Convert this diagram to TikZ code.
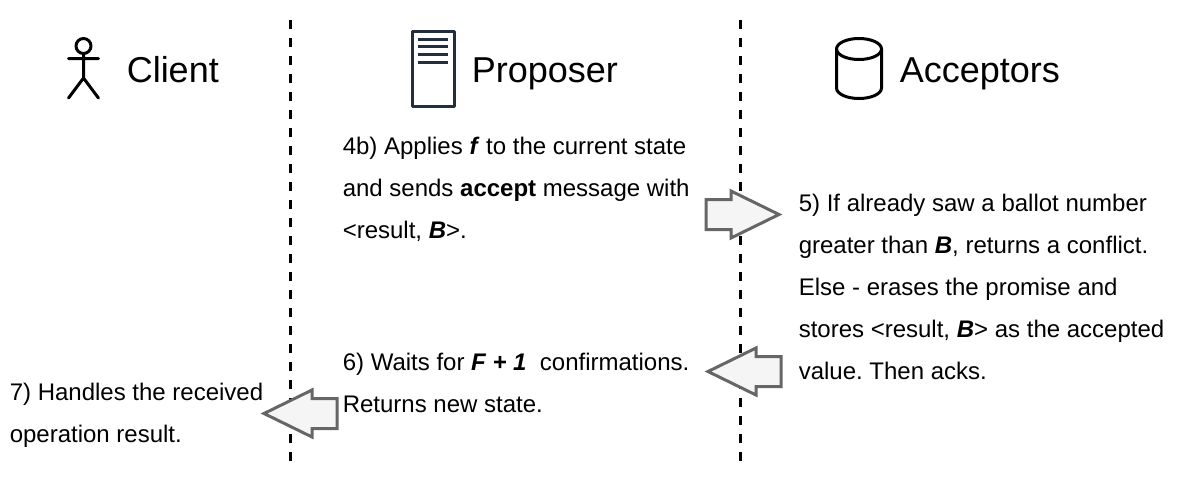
\documentclass[tikz,border=0pt]{standalone}
\usepackage{fontspec}
\setmainfont{Liberation Sans}
\frenchspacing
\definecolor{docblue}{HTML}{232F3E}
\definecolor{arrowgray}{HTML}{666666}
\definecolor{arrowfill}{HTML}{F5F5F5}
\tikzset{
  lane/.style={line width=2.25pt,dash pattern=on 6.75pt off 6.75pt},
  heading/.style={anchor=base west,font=\fontsize{27}{30}\selectfont,inner sep=0pt},
  stepline/.style={anchor=base west,font=\fontsize{18}{21}\selectfont,inner sep=0pt},
  actor/.style={line width=2.25pt,line cap=round,line join=round},
  flow/.style={line width=2.25pt,draw=arrowgray,fill=arrowfill,line join=miter}
}
\begin{document}
\begin{tikzpicture}[x=0.75pt,y=-0.75pt,line join=round]
	%Page.
	\useasboundingbox (0,0) rectangle (1178,476);
	%Lanes.
	\coordinate (laneAtop) at (290.5,20);
	\coordinate (laneAbot) at (290.5,462);
	\coordinate (laneBtop) at (740.5,20);
	\coordinate (laneBbot) at (740.5,462);
	\draw[lane] (laneAtop)--(laneAbot);
	\draw[lane] (laneBtop)--(laneBbot);
	%Headings.
	\node[heading] (client) at (126.5,82) {Client};
	\node[heading] (proposer) at (471.5,82) {Proposer};
	\node[heading] (acceptors) at (899.5,82) {Acceptors};
	%Client icon.
	\draw[actor] (83.5,46) circle (7.5);
	\draw[actor] (83.5,53.5)--(83.5,78) (68.5,58.5)--(98.5,58.5) (68.5,98)--(83.5,78)--(98.5,98);
	%Proposer icon.
	\draw[actor,docblue] (412,31) rectangle (454,106);
	\foreach \y in {39,46.5,54.5,62}{
		\draw[line width=2.25pt,docblue] (418,\y)--(448,\y);
	}
	%Acceptors icon.
	\draw[actor] (859,49) ellipse (22.5 and 10.5);
	\draw[actor] (836.5,49)--(836.5,88) arc[x radius=22.5,y radius=10.5,start angle=180,end angle=0]--(881.5,49);
	%Proposer text.
	\node[stepline] (applyA) at (342.5,154) {4b) Applies \textbf{\textit{f}} to the current state};
	\node[stepline] (applyB) at (342.5,196) {and sends \textbf{accept} message with};
	\node[stepline] (applyC) at (342.5,238) {<result, \textbf{\textit{B}}>.};
	\node[stepline] (waitA) at (342.5,370) {6) Waits for \textbf{\textit{F + 1}}\ \ confirmations.};
	\node[stepline] (waitB) at (342.5,412) {Returns new state.};
	%Acceptors text.
	\node[stepline] (ackA) at (798.5,211) {5) If already saw a ballot number};
	\node[stepline] (ackB) at (798.5,253) {greater than \textbf{\textit{B}}, returns a conflict.};
	\node[stepline] (ackC) at (798.5,295) {Else - erases the promise and};
	\node[stepline] (ackD) at (798.5,337) {stores <result, \textbf{\textit{B}}> as the accepted};
	\node[stepline] (ackE) at (798.5,379) {value. Then acks.};
	%Client text.
	\node[stepline] (handleA) at (9.5,400) {7) Handles the received};
	\node[stepline] (handleB) at (9.5,442) {operation result.};
	%Arrows.
	\draw[flow] (706,199.5)--(731,199.5)--(731,191)--(779,214.5)--(731,238)--(731,229.5)--(706,229.5)--cycle;
	\draw[flow] (781,356.5)--(756,356.5)--(756,348)--(708,371.5)--(756,395)--(756,386.5)--(781,386.5)--cycle;
	\draw[flow] (337,398.5)--(312,398.5)--(312,390)--(264,413.5)--(312,437)--(312,428.5)--(337,428.5)--cycle;
\end{tikzpicture}
\end{document}
